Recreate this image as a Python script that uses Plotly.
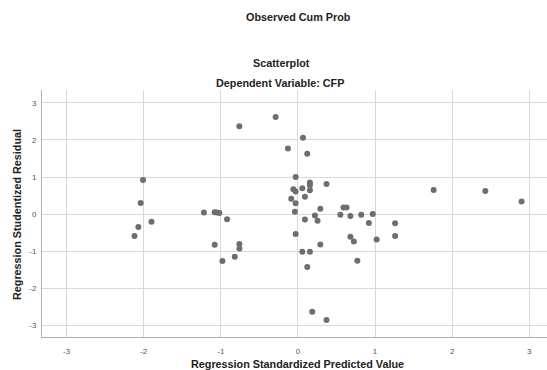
import plotly.graph_objects as go

predicted = [-2.01, -2.04, -1.90, -2.07, -2.12,
             -0.76, -0.29, 0.065, -0.13, 0.12, -0.03, 0.155, 0.155, 0.37, -0.06,
             -0.03, 0.056, 0.155, 0.09, -0.087, -0.03, 0.29, 0.59, 0.63, -0.04,
             0.22, 0.55, 0.68, 0.82, 0.97, 0.09, 0.254, 0.92, -0.03, 0.29,
             0.68, 0.725, 1.02, 0.056, 0.155, 0.12, 0.77, 0.185, 0.37,
             -1.22, -1.08, -1.05, -1.02, -0.92, -1.08, -0.76, -0.76, -0.82, -0.98,
             1.76, 2.43, 2.90, 1.26, 1.26]
residual = [0.92, 0.30, -0.21, -0.35, -0.59,
            2.37, 2.62, 2.06, 1.77, 1.63, 1.00, 0.85, 0.78, 0.81, 0.67,
            0.61, 0.70, 0.64, 0.47, 0.41, 0.29, 0.14, 0.18, 0.18, 0.06,
            -0.04, -0.02, -0.05, -0.02, 0.00, -0.15, -0.18, -0.24, -0.54, -0.82,
            -0.61, -0.74, -0.69, -1.02, -1.02, -1.43, -1.26, -2.64, -2.86,
            0.04, 0.05, 0.04, 0.03, -0.14, -0.83, -0.81, -0.93, -1.15, -1.27,
            0.65, 0.62, 0.34, -0.25, -0.59]
tick_vals = [-3, -2, -1, 0, 1, 2, 3]
tick_text = ["-3", "-2", "-1", "0", "1", "2", "3"]

fig = go.Figure()
fig.add_trace(go.Scatter(
    x=predicted, y=residual, mode="markers",
    marker=dict(color="#6e6e6e", size=6, line=dict(width=0)),
    showlegend=False, hoverinfo="skip"))

FONT = "Liberation Sans, Arial, sans-serif"
PW, PH = 505, 247  # plot area size in px
fig.update_layout(
    width=547, height=370,
    margin=dict(l=42, r=0, t=90, b=33),
    paper_bgcolor="white", plot_bgcolor="white",
    font=dict(family=FONT, color="#333333"),
    xaxis=dict(range=[-3.32, 3.23], tickvals=tick_vals, ticktext=tick_text,
               showgrid=True, gridcolor="#d9d9d9", gridwidth=1,
               zeroline=False, showline=True, linecolor="#b0b0b0", linewidth=1,
               ticks="", tickfont=dict(size=8, color="#555555"), ticklabelstandoff=6),
    yaxis=dict(range=[-3.32, 3.35], tickvals=tick_vals, ticktext=tick_text,
               showgrid=True, gridcolor="#d9d9d9", gridwidth=1,
               zeroline=False, showline=True, linecolor="#b0b0b0", linewidth=1,
               ticks="", tickfont=dict(size=8, color="#555555"), ticklabelstandoff=3),
    annotations=[
        dict(text="<b>Observed Cum Prob</b>", xref="paper", yref="paper",
             x=(298 - 42) / PW, y=(337 - 17) / PH,
             showarrow=False, font=dict(size=10.8, color="#222222"),
             xanchor="center", yanchor="middle"),
        dict(text="<b>Scatterplot</b>", xref="paper", yref="paper",
             x=(281 - 42) / PW, y=(337 - 63) / PH,
             showarrow=False, font=dict(size=10.8, color="#222222"),
             xanchor="center", yanchor="middle"),
        dict(text="<b>Dependent Variable: CFP</b>", xref="paper", yref="paper",
             x=(280 - 42) / PW, y=(337 - 83) / PH,
             showarrow=False, font=dict(size=10.8, color="#222222"),
             xanchor="center", yanchor="middle"),
        dict(text="<b>Regression Standardized Predicted Value</b>", xref="paper", yref="paper",
             x=(297 - 42) / PW, y=(337 - 364) / PH,
             showarrow=False, font=dict(size=10.8, color="#222222"),
             xanchor="center", yanchor="middle"),
        dict(text="<b>Regression Studentized Residual</b>", xref="paper", yref="paper",
             x=(17 - 42) / PW, y=(337 - 215) / PH, textangle=-90,
             showarrow=False, font=dict(size=10.8, color="#222222"),
             xanchor="center", yanchor="middle"),
    ],
)

fig.write_html("out.html", config={"displayModeBar": False},
               post_script="document.body.style.margin='0';document.body.style.overflow='hidden';")
